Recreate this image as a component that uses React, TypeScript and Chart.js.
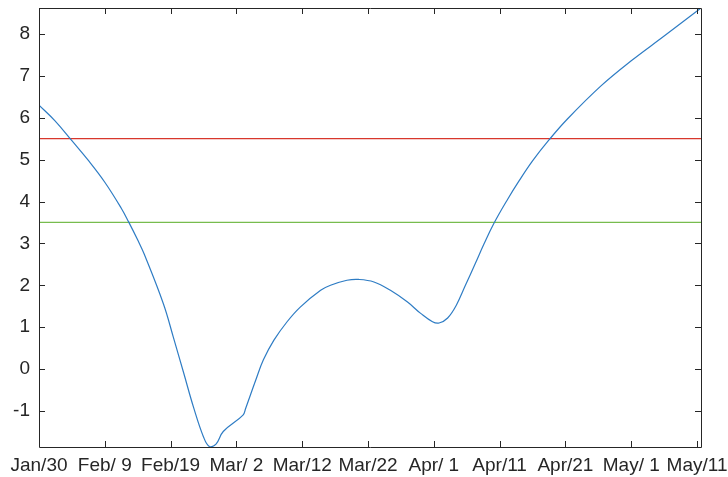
import React, { useEffect, useRef } from "react";
import { Chart, registerables } from "chart.js";

Chart.register(...registerables);

// x tick labels (every 10 days starting Jan/30)
const tickLabels = [
  "Jan/30", "Feb/ 9", "Feb/19", "Mar/ 2", "Mar/12", "Mar/22",
  "Apr/ 1", "Apr/11", "Apr/21", "May/ 1", "May/11",
];

// day offset from Jan/30
const days = [
  0, 2.4, 4.9, 7.5, 10.0, 12.5, 13.6, 15.1, 16.0, 18.9, 20.4, 22.0, 23.5, 25.0,
  25.9, 26.9, 28.0, 31.0, 31.4, 32.9, 34.1, 35.7, 37.7, 39.7, 42.8, 44.3, 46.8,
  48.6, 50.9, 53.4, 56.0, 58.0, 59.8, 60.8, 62.1, 63.4, 64.8, 66.3, 67.6, 69.1,
  71.2, 72.9, 75.0, 77.5, 80.3, 85.4, 90.0, 95.0, 100.6,
];

const values = [
  6.30, 5.93, 5.47, 4.98, 4.46, 3.84, 3.52, 3.05, 2.74, 1.56, 0.77, -0.10,
  -0.92, -1.62, -1.85, -1.79, -1.49, -1.10, -0.94, -0.28, 0.22, 0.69, 1.13,
  1.48, 1.88, 2.00, 2.12, 2.14, 2.08, 1.88, 1.60, 1.33, 1.13, 1.10, 1.22, 1.52,
  2.00, 2.52, 2.98, 3.47, 4.05, 4.48, 4.97, 5.47, 5.97, 6.76, 7.36, 7.95, 8.62,
];

const upperThreshold = [5.5, 5.5];
const lowerThreshold = [3.5, 3.5];
const thresholdDays = [0, 100.6];

const xMin = 0;
const xMax = 100.6;
const yMin = -1.86;
const yMax = 8.62;
const yTicks = [-1, 0, 1, 2, 3, 4, 5, 6, 7, 8];

const AXIS_COLOR = "#262626";

const boxPlugin = {
  id: "matlabBox",
  afterDraw(chart: any) {
    const { ctx, chartArea } = chart;
    const { left, right, top, bottom } = chartArea;
    const xs = chart.scales.x;
    const ys = chart.scales.y;
    const tl = 6;
    ctx.save();
    ctx.strokeStyle = AXIS_COLOR;
    ctx.lineWidth = 1;
    ctx.beginPath();
    ctx.rect(Math.round(left) + 0.5, Math.round(top) + 0.5, Math.round(right - left), Math.round(bottom - top));
    ctx.stroke();
    ctx.beginPath();
    tickLabels.forEach((_, i) => {
      const px = Math.round(xs.getPixelForValue(i * 10)) + 0.5;
      ctx.moveTo(px, bottom);
      ctx.lineTo(px, bottom - tl);
      ctx.moveTo(px, top);
      ctx.lineTo(px, top + tl);
    });
    yTicks.forEach((v) => {
      const py = Math.round(ys.getPixelForValue(v)) + 0.5;
      ctx.moveTo(left, py);
      ctx.lineTo(left + tl, py);
      ctx.moveTo(right, py);
      ctx.lineTo(right - tl, py);
    });
    ctx.stroke();
    ctx.restore();
  },
};

export default function App() {
  const ref = useRef<HTMLCanvasElement | null>(null);

  useEffect(() => {
    if (!ref.current) return;
    Chart.defaults.font.family = "'Liberation Sans', Arial, sans-serif";
    const chart = new Chart(ref.current, {
      type: "line",
      data: {
        datasets: [
          {
            data: days.map((d, i) => ({ x: d, y: values[i] })),
            borderColor: "#2E7CC4",
            borderWidth: 1.2,
            pointRadius: 0,
            tension: 0.4,
            fill: false,
          },
          {
            data: thresholdDays.map((d, i) => ({ x: d, y: upperThreshold[i] })),
            borderColor: "#D8372C",
            borderWidth: 1.2,
            pointRadius: 0,
            fill: false,
          },
          {
            data: thresholdDays.map((d, i) => ({ x: d, y: lowerThreshold[i] })),
            borderColor: "#77BC4E",
            borderWidth: 1.2,
            pointRadius: 0,
            fill: false,
          },
        ],
      },
      options: {
        responsive: false,
        animation: false,
        events: [],
        layout: { padding: { top: 8, right: 27, left: 0, bottom: 0 } },
        plugins: {
          legend: { display: false },
          tooltip: { enabled: false },
        },
        scales: {
          x: {
            type: "linear",
            min: xMin,
            max: xMax,
            grid: { display: false, drawTicks: false },
            border: { display: false },
            afterBuildTicks: (scale: any) => {
              scale.ticks = tickLabels.map((_, i) => ({ value: i * 10 }));
            },
            afterFit: (scale: any) => {
              scale.height = 30;
              scale.paddingLeft = 0;
              scale.paddingRight = 0;
            },
            ticks: {
              autoSkip: false,
              maxRotation: 0,
              minRotation: 0,
              padding: 7,
              color: AXIS_COLOR,
              font: { size: 19 },
              callback: (v: any) => tickLabels[Math.round(Number(v) / 10)],
            },
          },
          y: {
            type: "linear",
            min: yMin,
            max: yMax,
            grid: { display: false, drawTicks: false },
            border: { display: false },
            afterBuildTicks: (scale: any) => {
              scale.ticks = yTicks.map((v) => ({ value: v }));
            },
            afterFit: (scale: any) => {
              scale.width = 39;
              scale.paddingTop = 0;
              scale.paddingBottom = 0;
            },
            ticks: {
              padding: 9,
              color: AXIS_COLOR,
              font: { size: 19 },
              callback: (v: any) => String(v),
            },
          },
        },
      },
      plugins: [boxPlugin],
    });
    return () => chart.destroy();
  }, []);

  return (
    <div style={{ position: "fixed", left: 0, top: 0, width: 728, height: 477, background: "#fff" }}>
      <canvas ref={ref} width={728} height={477} style={{ width: 728, height: 477 }} />
    </div>
  );
}
